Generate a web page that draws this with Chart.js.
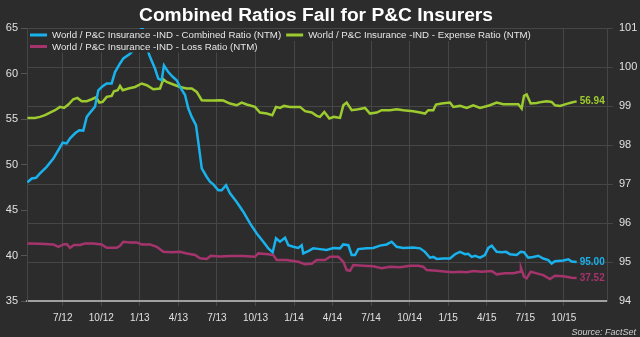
<!DOCTYPE html>
<html>
<head>
<meta charset="utf-8">
<script src="https://cdn.jsdelivr.net/npm/chart.js@4.4.0/dist/chart.umd.min.js"></script>
<style>
html,body{margin:0;padding:0;background:#2c2c2c;}
</style>
</head>
<body>
<canvas id="myChart" width="640" height="337"></canvas>
<script>
// x values are months counted from Jan 2012 (6 = Jul 2012)
const tickMonths=[6,9,12,15,18,21,24,27,30,33,36,39,42,45];
const tickLabels=['7/12','10/12','1/13','4/13','7/13','10/13','1/14','4/14','7/14','10/14','1/15','4/15','7/15','10/15'];

const combinedT=[3.25,3.59,3.92,4.23,4.75,5.27,5.66,6.00,6.31,6.57,6.96,7.29,7.60,7.87,8.18,8.51,8.77,9.11,9.42,9.81,10.07,10.46,10.72,11.24,11.63,11.88,12.17,12.48,12.79,13.18,13.44,13.70,13.88,14.22,14.56,14.87,15.13,15.52,15.77,16.04,16.37,16.55,16.82,17.21,17.46,17.72,18.11,18.37,18.71,19.02,19.54,20.05,20.58,21.10,21.61,22.00,22.34,22.60,22.91,23.30,23.56,23.95,24.33,24.60,24.72,25.11,25.50,26.02,26.54,27.06,27.58,27.84,28.23,28.49,28.75,29.00,29.66,30.17,30.69,31.21,31.60,31.99,32.51,33.28,33.81,34.19,34.58,34.84,35.11,35.62,36.14,36.53,36.92,37.31,37.56,37.83,38.09,38.48,38.86,39.12,39.39,39.77,40.16,40.50,40.81,41.33,41.64,41.90,42.23,42.62,43.01,43.40,43.79,44.05,44.31,44.96,45.35,45.61,46.00];
const combinedVals=[97.04,97.14,97.16,97.27,97.44,97.65,97.87,98.06,98.04,98.17,98.30,98.38,98.37,98.72,98.85,98.98,99.40,99.51,99.58,99.58,99.87,100.09,100.22,100.34,100.47,100.60,101.10,100.56,100.26,99.96,99.70,99.66,100.04,99.87,99.75,99.66,99.49,99.28,98.94,98.72,98.51,98.08,97.40,97.18,97.06,96.99,96.84,96.84,96.97,96.76,96.54,96.29,95.99,95.73,95.52,95.35,95.25,95.61,95.52,95.62,95.43,95.39,95.36,95.43,95.22,95.28,95.35,95.33,95.31,95.36,95.35,95.45,95.43,95.18,95.18,95.33,95.35,95.36,95.42,95.45,95.52,95.39,95.36,95.37,95.35,95.26,95.11,95.13,95.08,95.09,95.09,95.20,95.26,95.20,95.21,95.13,95.16,95.11,95.18,95.36,95.42,95.26,95.25,95.26,95.20,95.18,95.26,95.25,95.11,95.13,95.16,95.09,95.05,94.96,95.02,95.04,95.07,95.01,95.00];

const expenseT=[3.25,3.84,4.23,4.62,5.01,5.40,5.79,6.10,6.44,6.82,7.14,7.48,7.87,8.26,8.59,8.85,9.11,9.42,9.81,9.99,10.28,10.46,10.67,11.11,11.63,12.15,12.54,13.05,13.57,13.83,14.09,14.61,15.13,15.65,16.04,16.43,16.82,17.21,17.72,18.24,18.50,19.02,19.54,19.93,20.32,20.96,21.35,21.88,22.31,22.60,22.91,23.22,23.69,24.47,24.86,25.38,25.77,26.02,26.36,26.75,27.11,27.58,27.84,28.10,28.49,29.00,29.53,29.91,30.44,30.82,31.47,31.99,32.51,33.28,33.81,34.19,34.45,34.84,35.05,35.49,36.14,36.40,36.92,37.44,37.95,38.48,39.25,39.77,40.29,40.81,41.46,41.72,41.90,42.11,42.42,42.89,43.28,43.67,44.05,44.31,44.70,45.22,45.61,46.00];
const expenseVals=[55.12,55.12,55.23,55.42,55.71,55.97,56.33,56.22,56.59,57.17,57.32,56.95,56.95,57.17,57.39,56.81,56.88,57.43,57.54,58.05,58.16,58.63,58.16,58.35,58.52,58.90,58.71,58.27,58.35,59.37,59.07,58.79,58.52,58.35,58.35,57.97,57.06,57.03,57.03,57.06,57.03,56.70,56.51,56.81,56.59,56.33,55.71,55.60,55.42,56.33,56.22,56.44,56.33,56.33,55.86,55.71,55.34,55.23,55.78,55.05,55.23,55.12,56.51,56.81,55.97,56.08,56.22,55.60,55.71,55.97,55.97,56.08,55.97,55.86,55.71,55.60,55.97,55.97,56.59,56.70,56.81,56.33,56.44,56.22,56.51,56.22,56.51,56.81,56.62,56.62,56.62,56.15,57.54,57.69,56.70,56.77,56.88,56.95,56.88,56.51,56.44,56.66,56.81,56.94];

const lossT=[3.25,4.23,5.27,5.66,6.05,6.31,6.57,6.88,7.35,7.74,8.38,9.03,9.42,10.20,10.46,10.72,11.24,11.76,12.15,12.79,13.32,13.83,14.48,15.13,15.65,16.30,16.68,17.21,17.52,18.24,19.02,20.05,20.96,21.22,22.00,22.39,22.65,23.43,24.33,24.86,25.38,25.77,26.41,26.80,27.45,27.84,28.10,28.36,28.61,29.39,30.17,30.82,31.47,32.25,33.03,33.67,34.06,34.33,35.11,35.88,36.40,36.92,37.44,37.95,38.61,39.39,39.77,40.42,41.07,41.59,41.66,41.90,42.11,42.42,42.89,43.40,43.92,44.31,44.96,45.61,46.00];
const lossVals=[41.33,41.29,41.22,40.96,41.22,41.26,40.85,41.15,41.15,41.33,41.33,41.22,40.85,40.85,41.07,41.51,41.44,41.44,41.22,41.22,40.96,40.41,40.35,40.41,40.23,40.05,39.69,39.61,39.97,39.90,39.94,39.94,39.86,40.23,40.13,40.05,39.50,39.50,39.31,39.03,39.10,39.50,39.50,39.86,39.86,39.31,38.40,38.32,38.95,38.87,38.81,38.59,38.77,38.70,38.88,38.88,38.77,38.40,38.32,38.22,38.15,38.22,38.15,38.29,38.22,38.29,37.93,38.04,38.04,38.22,38.66,37.67,37.49,38.22,38.04,37.85,37.41,37.78,37.71,37.56,37.52];

const bg='#2c2c2c';
const gridCol='#464646';
const fontFam='"Liberation Sans", Arial, sans-serif';
const blue='#19b2ec', green='#9dcb2f', magenta='#a5346c';

function pts(t,v){ return t.map((x,i)=>({x:x,y:v[i]})); }

const decor={
  id:'decor',
  beforeDraw(chart){
    const c=chart.ctx;
    c.save();
    c.fillStyle=bg;
    c.fillRect(0,0,chart.width,chart.height);
    c.restore();
  },
  afterDatasetsDraw(chart){
    const c=chart.ctx;
    c.save();
    // end value labels
    chart.data.datasets.forEach((ds,i)=>{
      const meta=chart.getDatasetMeta(i);
      const p=meta.data[meta.data.length-1];
      c.fillStyle=ds.borderColor;
      c.font='bold 10px '+fontFam;
      c.textBaseline='middle';
      c.textAlign='left';
      c.fillText(ds.data[ds.data.length-1].y.toFixed(2),p.x+3,p.y);
    });
    // legend on top of the plot
    c.font='9.7px '+fontFam;
    const rows=[[0,1],[2]];
    const rowY=[35,46.5];
    rows.forEach((row,r)=>{
      let x=30;
      const items=row.map(i=>chart.data.datasets[i]);
      let w=0;
      items.forEach(ds=>{ w+=22+c.measureText(ds.label).width+5; });
      c.fillStyle=bg;
      c.fillRect(28,rowY[r]-6,w,12);
      items.forEach(ds=>{
        c.strokeStyle=ds.borderColor;
        c.lineWidth=3;
        c.beginPath();
        c.moveTo(x,rowY[r]);
        c.lineTo(x+17,rowY[r]);
        c.stroke();
        c.fillStyle='#e6e6e6';
        c.textBaseline='middle';
        c.textAlign='left';
        c.fillText(ds.label,x+22,rowY[r]+0.5);
        x+=22+c.measureText(ds.label).width+5;
      });
    });
    c.restore();
  },
  afterDraw(chart){
    const c=chart.ctx;
    c.save();
    c.fillStyle='#ffffff';
    c.font='bold 19.2px '+fontFam;
    c.textAlign='center';
    c.textBaseline='middle';
    c.fillText('Combined Ratios Fall for P&C Insurers',316,16);
    c.fillStyle='#d0d0d0';
    c.font='italic 9px '+fontFam;
    c.textAlign='right';
    c.fillText('Source: FactSet',636,332);
    c.restore();
  }
};

const myChart=new Chart(document.getElementById('myChart'),{
  type:'line',
  data:{
    datasets:[
      {label:'World / P&C Insurance -IND - Combined Ratio (NTM)',data:pts(combinedT,combinedVals),borderColor:blue,yAxisID:'yR',order:0},
      {label:'World / P&C Insurance -IND - Expense Ratio (NTM)',data:pts(expenseT,expenseVals),borderColor:green,yAxisID:'yL',order:1},
      {label:'World / P&C Insurance -IND - Loss Ratio (NTM)',data:pts(lossT,lossVals),borderColor:magenta,yAxisID:'yL',order:2}
    ]
  },
  options:{
    responsive:false,
    animation:false,
    devicePixelRatio:1,
    layout:{padding:{top:28,left:0,right:0,bottom:0}},
    elements:{
      line:{borderWidth:2.5,tension:0},
      point:{radius:0}
    },
    plugins:{
      legend:{display:false},
      title:{display:false},
      tooltip:{enabled:false}
    },
    scales:{
      x:{
        type:'linear',
        min:3.22,
        max:48.36,
        afterBuildTicks(scale){ scale.ticks=tickMonths.map(v=>({value:v})); },
        afterFit(scale){ scale.height=36; },
        ticks:{
          color:'#e0e0e0',
          font:{size:10,family:fontFam},
          padding:6,
          maxRotation:0,
          autoSkip:false,
          callback:(v,i)=>tickLabels[i]
        },
        grid:{color:gridCol,tickLength:5},
        border:{color:'#a0a0a0',width:2}
      },
      yL:{
        position:'left',
        min:35,
        max:65,
        afterFit(scale){ scale.width=27; },
        ticks:{stepSize:5,color:'#e0e0e0',font:{size:11,family:fontFam},padding:3},
        grid:{drawOnChartArea:false,color:'#555555',tickLength:6},
        border:{color:gridCol}
      },
      yR:{
        position:'right',
        min:94,
        max:101,
        afterFit(scale){ scale.width=33; },
        ticks:{stepSize:1,color:'#e0e0e0',font:{size:11,family:fontFam},padding:6},
        grid:{
          color:ctx=>(ctx.tick && ctx.tick.value===94)?'rgba(0,0,0,0)':gridCol,
          tickLength:6
        },
        border:{color:gridCol}
      }
    }
  },
  plugins:[decor]
});
</script>
</body>
</html>
